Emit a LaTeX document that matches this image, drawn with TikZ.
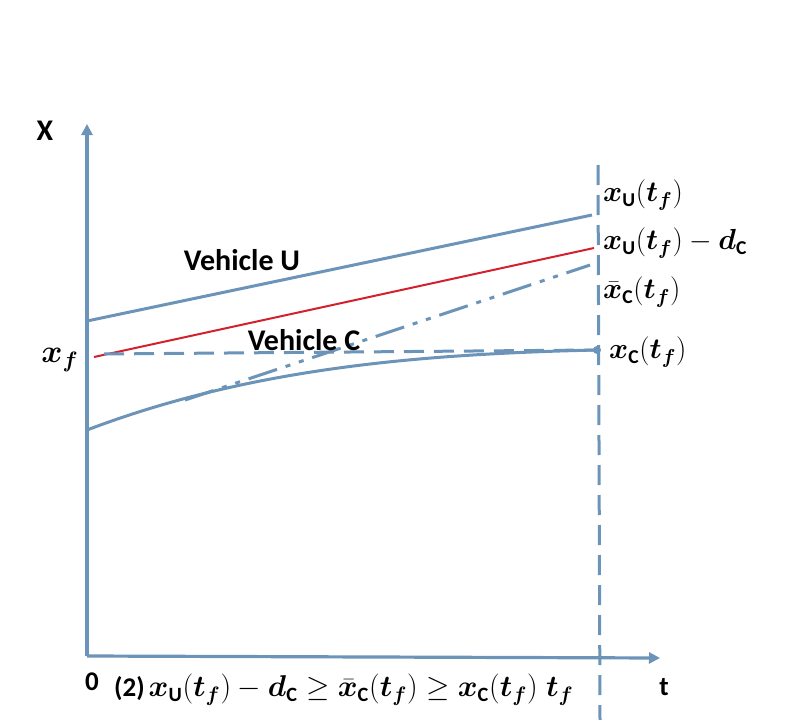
\documentclass[tikz,border=0pt]{standalone}
\usepackage{amsmath,bm,graphicx}
\usepackage{fontspec}
\setsansfont{Carlito}
\usetikzlibrary{arrows.meta}
\definecolor{axblue}{RGB}{108,148,184}
\definecolor{lred}{RGB}{212,32,44}
\newcommand{\bx}{\bm{x}}
\newcommand{\bt}{\bm{t}}
\newcommand{\sU}{\textsf{\textbf{U}}}
\newcommand{\sC}{\textsf{\textbf{C}}}
\newcommand{\scmath}[2]{\scalebox{#1}{\fontsize{20}{24}\selectfont$#2$}}
\tikzset{
  axis/.style={draw=axblue,line width=3.2pt,-{Triangle[length=11pt,width=11pt]}},
  vline/.style={draw=axblue,line width=3pt},
  dashv/.style={draw=axblue,line width=3pt,dash pattern=on 20pt off 10pt},
  ddot/.style={draw=axblue,line width=3pt,dash pattern=on 30pt off 9pt on 5pt off 9pt on 5pt off 9pt},
  lab/.style={font=\sffamily\bfseries\fontsize{30}{34}\selectfont,inner sep=0pt},
  mlab/.style={inner sep=0pt,anchor=west},
}
\begin{document}
\begin{tikzpicture}[x=1pt,y=-1pt]
\useasboundingbox (0,0) rectangle (790,720);
\coordinate (O) at (87,656);
\coordinate (Ytip) at (87,124);
\coordinate (Xtip) at (660,658);
\draw[axis] (O) -- (Ytip);
\draw[axis] (O) -- (Xtip);
\coordinate (Vtop) at (598,165);
\coordinate (Vbot) at (600,720);
\draw[dashv] (Vtop) -- (Vbot);
% Vehicle U
\coordinate (U0) at (87,321);
\coordinate (U1) at (592,215);
\draw[vline] (U0) -- (U1);
% red line
\coordinate (R0) at (94,357);
\coordinate (R1) at (594,248);
\draw[lred,line width=2pt] (R0) -- (R1);
% dashed horizontal
\coordinate (D0) at (104,354);
\coordinate (D1) at (596,350);
\draw[dashv] (D0) -- (D1);
% Vehicle C curve
\coordinate (C0) at (87,430);
\coordinate (C1) at (597,350);
\draw[vline] (C0) .. controls (250,368) and (420,354) .. (C1);
\fill[axblue] (C1) circle (4pt);
% dash-dot-dot
\coordinate (B0) at (185,400);
\coordinate (B1) at (590,265);
\draw[ddot] (B0) -- (B1);
% labels
\node[lab] (lX) at (45,131) {X};
\node[lab] (lVU) at (242,260) {Vehicle U};
\node[lab] (lVC) at (304,340) {Vehicle C};
\node[lab,font=\sffamily\bfseries\fontsize{27}{30}\selectfont] (l0) at (92,682) {0};
\node[lab,font=\sffamily\bfseries\fontsize{27}{30}\selectfont] (lt) at (664,687) {t};
\node[inner sep=0pt] (lxf) at (60,360) {\scmath{1.55}{\bx_{\bm f}}};
\node[mlab] (r1) at (603,195) {\scmath{1.4}{\bx_{\sU}(\bt_{\bm f})}};
\node[mlab] (r2) at (603,243) {\scmath{1.4}{\bx_{\sU}(\bt_{\bm f})-\bm d_{\sC}}};
\node[mlab] (r3) at (603,292) {\scmath{1.4}{\bar{\bx}_{\sC}(\bt_{\bm f})}};
\node[mlab] (r4) at (609,352) {\scmath{1.4}{\bx_{\sC}(\bt_{\bm f})}};
\node[mlab] (bot) at (114,690) {\textsf{\textbf{\fontsize{27}{30}\selectfont(2)}}\hspace{4pt}\scmath{1.45}{\bx_{\sU}(\bt_{\bm f})-\bm d_{\sC}\geq\bar{\bx}_{\sC}(\bt_{\bm f})\geq\bx_{\sC}(\bt_{\bm f})\;\bt_{\bm f}}};
\end{tikzpicture}
\end{document}
